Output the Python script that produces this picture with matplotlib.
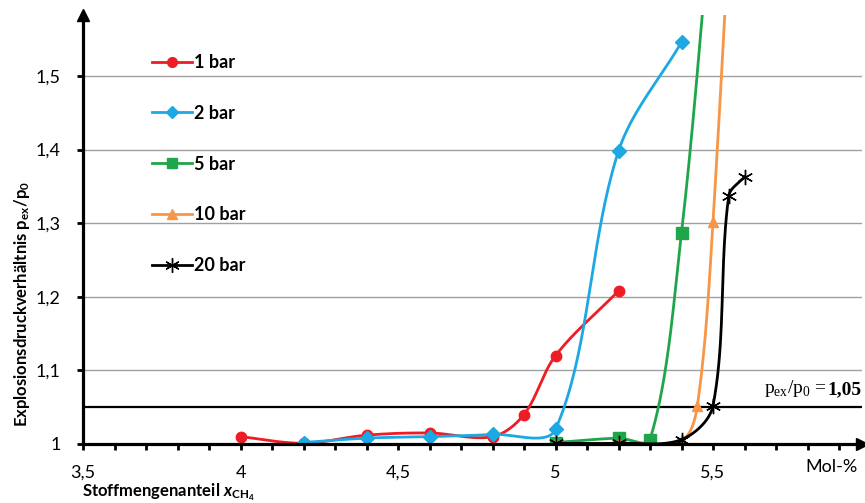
import numpy as np
import matplotlib
matplotlib.use("Agg")
import matplotlib.pyplot as plt

plt.rcParams['font.family'] = ['Lato', 'DejaVu Sans']
plt.rcParams['mathtext.fontset'] = 'custom'
plt.rcParams['mathtext.rm'] = 'Lato:bold'
plt.rcParams['mathtext.it'] = 'Lato:bold:italic'
plt.rcParams['mathtext.bf'] = 'Lato:bold'

# data
x_1bar = [4.0, 4.2, 4.4, 4.6, 4.8, 4.9, 5.0, 5.2]
y_1bar = [1.010, 1.001, 1.012, 1.015, 1.010, 1.040, 1.120, 1.208]
x_2bar = [4.2, 4.4, 4.6, 4.8, 5.0, 5.2, 5.4]
y_2bar = [1.002, 1.008, 1.010, 1.013, 1.020, 1.398, 1.546]
x_5bar = [5.0, 5.2, 5.3, 5.4, 5.5]
y_5bar = [1.002, 1.008, 1.006, 1.287, 1.75]
x_10bar = [5.0, 5.2, 5.4, 5.45, 5.5, 5.6]
y_10bar = [1.001, 1.001, 1.005, 1.051, 1.302, 2.1]
x_20bar = [5.0, 5.2, 5.4, 5.5, 5.55, 5.6]
y_20bar = [1.001, 1.001, 1.006, 1.052, 1.337, 1.363]

labels = ['1 bar', '2 bar', '5 bar', '10 bar', '20 bar']
colors = ['#EE1C25', '#1CA8E3', '#1FA64A', '#F79646', '#000000']
markers = ['o', 'D', 's', '^', (6, 2, 0)]
msizes = [7.5, 7, 8, 7.5, 11]

xticks = [3.5, 4, 4.5, 5, 5.5]
xticklabels = ['3,5', '4', '4,5', '5', '5,5']
yticks = [1.0, 1.1, 1.2, 1.3, 1.4, 1.5]
yticklabels = ['1', '1,1', '1,2', '1,3', '1,4', '1,5']
limit_value = 1.05

# pixels per data unit, used so the smoothing works in screen space
PX_X, PX_Y = 315.0, 736.0


def smooth(xs, ys, n=40):
    # bezier smoothing in screen space, tangents weighted by segment length (Excel-like)
    pts = np.column_stack([np.asarray(xs, float) * PX_X, np.asarray(ys, float) * PX_Y])
    out = []
    t = np.linspace(0, 1, n)[:, None]
    m = len(pts)
    for i in range(m - 1):
        p0 = pts[i - 1] if i > 0 else pts[i]
        p1 = pts[i]
        p2 = pts[i + 1]
        p3 = pts[i + 2] if i + 2 < m else pts[i + 1]
        d01 = np.hypot(*(p1 - p0))
        d12 = np.hypot(*(p2 - p1))
        d23 = np.hypot(*(p3 - p2))
        f1 = d12 / (d01 + d12) / 1.5 if d01 + d12 > 0 else 0
        f2 = d12 / (d12 + d23) / 1.5 if d12 + d23 > 0 else 0
        c1 = p1 + (p2 - p0) * f1 / 2
        c2 = p2 - (p3 - p1) * f2 / 2
        seg = ((1 - t) ** 3) * p1 + 3 * ((1 - t) ** 2) * t * c1 + 3 * (1 - t) * t ** 2 * c2 + t ** 3 * p2
        out.append(seg)
    out = np.vstack(out)
    return out[:, 0] / PX_X, out[:, 1] / PX_Y


fig = plt.figure(figsize=(8.65, 5.03), dpi=100)
ax = fig.add_axes([83 / 865, 59 / 503, (862 - 83) / 865, (444 - 15) / 503])

x0, x1 = 3.5, 3.5 + (862 - 83) / PX_X
y0, y1 = 1.0, 1.0 + (444 - 15) / PX_Y
ax.set_xlim(x0, x1)
ax.set_ylim(y0, y1)

for y in yticks[1:]:
    ax.axhline(y, color='#A0A0A0', lw=1.0, zorder=1)
ax.axhline(limit_value, color='black', lw=1.6, zorder=2)

series = [(x_1bar, y_1bar), (x_2bar, y_2bar), (x_5bar, y_5bar),
          (x_10bar, y_10bar), (x_20bar, y_20bar)]
order = [3, 2, 1, 0, 4]
for k in order:
    xs, ys = series[k]
    sx, sy = smooth(xs, ys)
    ax.plot(sx, sy, color=colors[k], lw=2.0, zorder=3 + k * 0.1)
    ax.plot(xs, ys, ls='none', marker=markers[k], ms=msizes[k], color=colors[k],
            mec=colors[k], mew=1.0, zorder=3.05 + k * 0.1)

# legend handles
handles = []
for k in range(5):
    h, = ax.plot([], [], color=colors[k], lw=2.0, marker=markers[k], ms=msizes[k] - 0.5,
                 mec=colors[k], mew=1.0)
    handles.append(h)
ax.legend(handles, labels, loc='upper left', bbox_to_anchor=(152 / 865, 1 - 54 / 503),
          bbox_transform=fig.transFigure, frameon=False, prop={'weight': 'bold', 'size': 13},
          handlelength=2.2, handletextpad=0.15, labelspacing=1.87, borderpad=0, borderaxespad=0)

lim_txt = ax.text(5.662, 1.076, r'p$_{\mathregular{ex}}$/p$_{\mathregular{0}}$ = ', fontsize=14,
                  family='Liberation Serif', ha='left', va='center')
ax.annotate('1,05', xy=(1, 0), xycoords=lim_txt, ha='left', va='bottom', fontsize=14,
            family='Liberation Serif', fontweight='bold', annotation_clip=False)

# axes styling
for s in ['top', 'right']:
    ax.spines[s].set_visible(False)
for s in ['left', 'bottom']:
    ax.spines[s].set_linewidth(2.3)
    ax.spines[s].set_zorder(6)
ax.plot(1, 0, '>', color='black', ms=8, transform=ax.transAxes, clip_on=False, zorder=7)
ax.plot(0, 1, '^', color='black', ms=8, transform=ax.transAxes, clip_on=False, zorder=7)

ax.set_xticks(xticks)
ax.set_xticklabels(xticklabels, fontsize=13)
ax.set_xticks(np.arange(3.6, 5.95, 0.1), minor=True)
ax.set_yticks(yticks)
ax.set_yticklabels(yticklabels, fontsize=13)
ax.tick_params(axis='both', which='both', direction='out', length=4, width=2)
ax.tick_params(axis='y', which='major', pad=12)
ax.tick_params(axis='x', which='major', pad=11)
ax.text(5.875, -0.035, 'Mol-%', transform=ax.get_xaxis_transform(), ha='center', va='top', fontsize=13)

fig.text(22 / 865, 1 - 304 / 503,
         r'Explosionsdruckverhältnis p$_{\mathregular{ex}}$/p$_{\mathregular{0}}$', rotation=90,
         ha='center', va='center', fontsize=12, fontweight='bold')
fig.text(82 / 865, 11 / 503, r'Stoffmengenanteil $x_{\mathregular{CH_4}}$', ha='left', va='center',
         fontsize=12, fontweight='bold')

fig.savefig('out.png', dpi=100)
